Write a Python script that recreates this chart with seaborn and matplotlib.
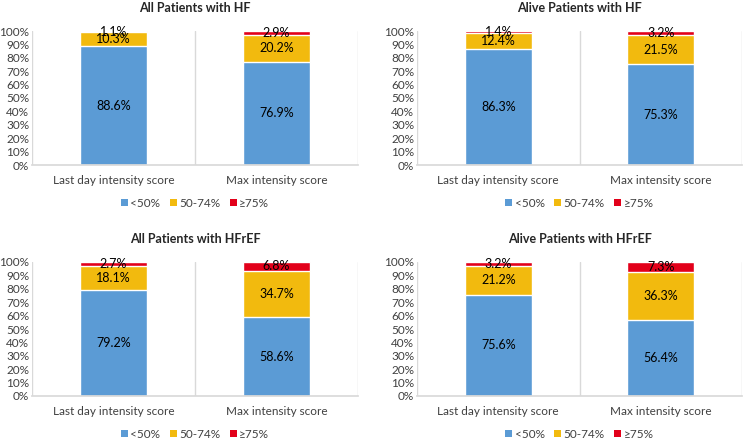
import matplotlib
matplotlib.use("Agg")
import matplotlib.pyplot as plt
import seaborn as sns
import pandas as pd
import numpy as np
from matplotlib.patches import Patch

# data
categories = ["Last day intensity score", "Max intensity score"]
groups = ["<50%", "50-74%", "≥75%"]
titles = ["All Patients with HF", "Alive Patients with HF",
          "All Patients with HFrEF", "Alive Patients with HFrEF"]
low_vals = [[88.6, 76.9], [86.3, 75.3], [79.2, 58.6], [75.6, 56.4]]
mid_vals = [[10.3, 20.2], [12.4, 21.5], [18.1, 34.7], [21.2, 36.3]]
high_vals = [[1.1, 2.9], [1.4, 3.2], [2.7, 6.8], [3.2, 7.3]]

colors = ["#5B9BD5", "#F2BA0E", "#E2001A"]

sns.set_theme(style="white")
plt.rcParams["font.family"] = ["Lato", "DejaVu Sans"]

fig = plt.figure(figsize=(7.56, 4.41), dpi=100)
positions = [
    [32 / 756, 276 / 441, 326 / 756, 134 / 441],
    [417 / 756, 276 / 441, 325 / 756, 134 / 441],
    [32 / 756, 45 / 441, 326 / 756, 134 / 441],
    [417 / 756, 45 / 441, 325 / 756, 134 / 441],
]

for i in range(4):
    ax = fig.add_axes(positions[i])
    df = pd.DataFrame({
        "cat": categories,
        "low": low_vals[i],
        "mid": mid_vals[i],
        "high": high_vals[i],
    })
    df["top"] = df["low"] + df["mid"] + df["high"]
    df["lm"] = df["low"] + df["mid"]

    # stack by overlaying cumulative bars
    sns.barplot(data=df, x="cat", y="top", color=colors[2], width=0.41,
                saturation=1, ax=ax)
    sns.barplot(data=df, x="cat", y="lm", color=colors[1], width=0.41,
                saturation=1, ax=ax)
    sns.barplot(data=df, x="cat", y="low", color=colors[0], width=0.41,
                saturation=1, ax=ax)

    for j in range(len(categories)):
        lo, mi, hi = df["low"][j], df["mid"][j], df["high"][j]
        ax.text(j, lo / 2, f"{lo:.1f}%", ha="center", va="center", fontsize=9, color="black")
        ax.text(j, lo + mi / 2, f"{mi:.1f}%", ha="center", va="center", fontsize=9, color="black")
        ax.text(j, lo + mi + hi / 2, f"{hi:.1f}%", ha="center", va="center", fontsize=9, color="black")

    ax.set_xlim(-0.5, 1.5)
    ax.set_ylim(0, 100)
    ax.set_yticks(np.arange(0, 101, 10))
    ax.set_yticklabels([f"{v}%" for v in range(0, 101, 10)])
    ax.set_xticks(range(len(categories)))
    ax.set_xticklabels(categories)
    ax.set_xlabel("")
    ax.set_ylabel("")
    ax.tick_params(axis="both", labelsize=8.5, length=0, colors="#404040")
    ax.tick_params(axis="y", pad=2)
    ax.tick_params(axis="x", pad=7)
    for x in [-0.5, 0.5, 1.5]:
        ax.axvline(x, color="#D9D9D9", lw=1, zorder=0)
    for s in ["left", "right", "top"]:
        ax.spines[s].set_visible(False)
    ax.spines["bottom"].set_color("#D9D9D9")
    ax.set_title(titles[i], fontsize=9, fontweight="bold", pad=14)

    handles = [Patch(facecolor=c, edgecolor="none") for c in colors]
    ax.legend(handles, groups, loc="center", bbox_to_anchor=(0.5, -0.285),
              ncol=3, frameon=False, fontsize=8.5, handlelength=0.6,
              handleheight=0.6, handletextpad=0.2, columnspacing=0.8,
              labelcolor="#404040")

fig.savefig("out.png", dpi=100)
